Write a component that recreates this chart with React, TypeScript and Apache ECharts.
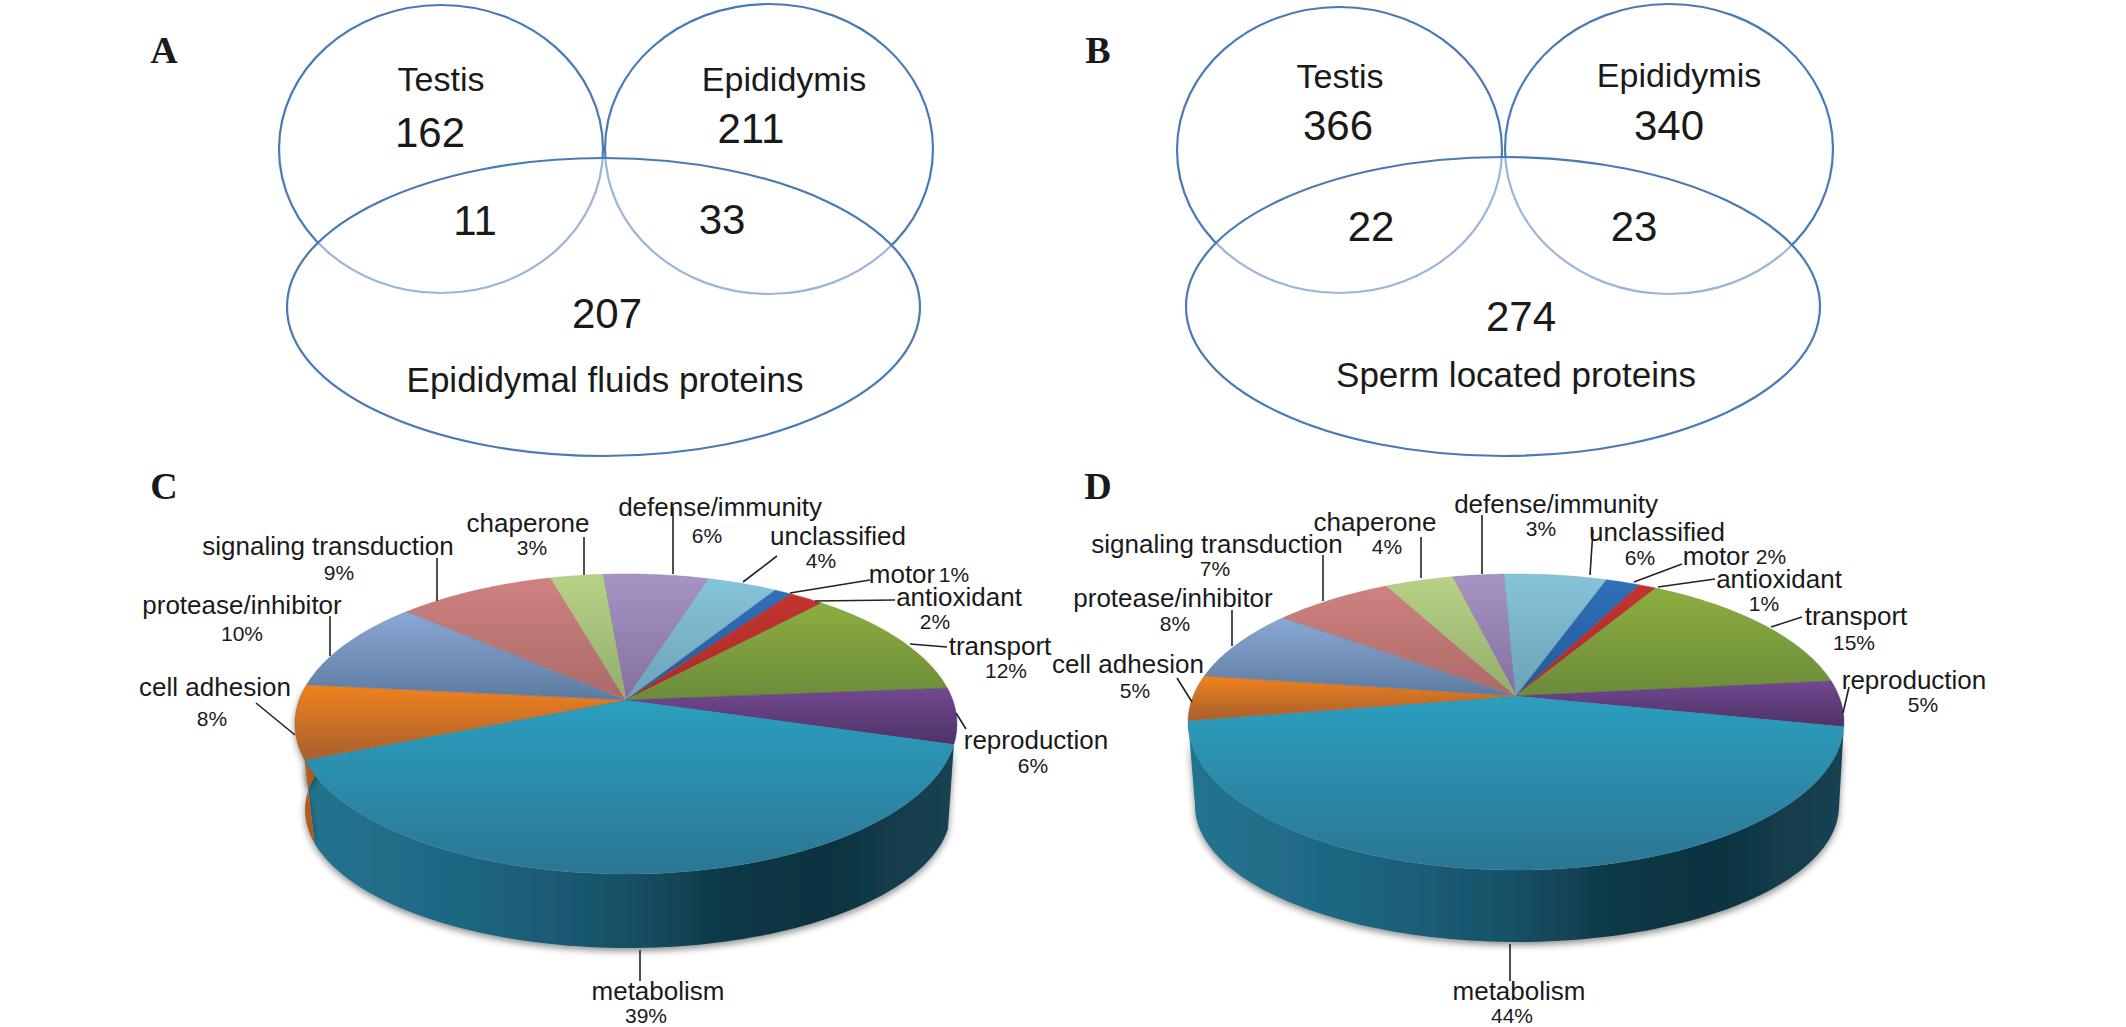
import React, { useEffect, useRef } from "react";
import * as echarts from "echarts";

// ---------- data ----------
const categories = [
  "defense/immunity", "unclassified", "motor", "antioxidant", "transport", "reproduction",
  "metabolism", "cell adhesion", "protease/inhibitor", "signaling transduction", "chaperone",
];
const valuesC = [6, 4, 1, 2, 12, 6, 39, 8, 10, 9, 3];
const valuesD = [3, 6, 2, 1, 15, 5, 44, 5, 8, 7, 4];
const vennA = ["Testis", "162", "Epididymis", "211", "11", "33", "207", "Epididymal fluids proteins"];
const vennB = ["Testis", "366", "Epididymis", "340", "22", "23", "274", "Sperm located proteins"];

// ---------- styles ----------
const topColors: [string, string][] = [
  ["#a793c4", "#8470a0"], ["#86c4da", "#6ba2b6"], ["#2f70ba", "#245896"], ["#c4332e", "#a62d2a"],
  ["#8cae3e", "#6c8b3c"], ["#734891", "#4c3366"], ["#2b9fbf", "#2b7693"], ["#f1821e", "#a65f2e"],
  ["#8aa8d6", "#5d7a9f"], ["#d08280", "#aa6a68"], ["#b8d287", "#92ad69"],
];
const wallStops: Record<number, [number, string][]> = {
  6: [[0, "#23748f"], [0.25, "#1e6682"], [0.5, "#175066"], [0.65, "#0f3846"], [0.8, "#0e323f"], [1, "#174352"]],
  7: [[0, "#c8671f"], [1, "#a8561c"]],
};
const SANS = "'Liberation Sans', Arial, sans-serif";
const SERIF = "'Liberation Serif', 'Times New Roman', serif";
const INK = "#1a1a1a";
const VENN_STROKE = "#4a7ab4";

// ---------- layout ----------
type Geo = { ex: number; ey: number; rx: number; ry: number; s: number; ex2: number; ey2: number; rx2: number; ry2: number; start: number; walls: number[] };
const geoC: Geo = { ex: 626, ey: 724, rx: 331, ry: 150, s: -0.16, ex2: 628, ey2: 810, rx2: 323, ry2: 138, start: -4.7, walls: [6, 7] };
const geoD: Geo = { ex: 1516, ey: 722, rx: 328, ry: 148, s: -0.176, ex2: 1517, ey2: 806, rx2: 322, ry2: 136, start: -13.3, walls: [6] };

const vennShapesA = [[441, 149, 162, 144], [769, 149, 164, 145], [603.5, 307, 316.5, 149]];
const vennShapesB = [[1339.5, 150, 162.5, 143], [1669, 149, 164, 145], [1503, 306.5, 317, 149.5]];
const vennPosA = [[441, 79, 34], [430, 132, 42], [784, 79, 34], [751, 128, 42], [475, 220, 42], [722, 219, 42], [607, 313, 42], [605, 379, 35]];
const vennPosB = [[1340, 76, 34], [1338, 125, 42], [1679, 75, 34], [1669, 125, 42], [1371, 226, 42], [1634, 226, 42], [1521, 316, 42], [1516, 374, 35]];
const panelLetters: [string, number, number][] = [["A", 164, 50], ["B", 1098, 50], ["C", 164, 486], ["D", 1098, 486]];

// per category: name x,y, percent x,y
const labelPosC = [
  [720, 507, 707, 535], [838, 536, 821, 560], [902, 574, 954, 574], [959, 597, 935, 621],
  [1000, 646, 1006, 670], [1036, 740, 1033, 765], [658, 991, 646, 1015], [215, 687, 212, 718],
  [242, 605, 242, 633], [328, 546, 339, 572], [528, 523, 532, 547],
];
const labelPosD = [
  [1556, 504, 1541, 528], [1657, 532, 1640, 557], [1716, 556, 1771, 556], [1779, 579, 1764, 603],
  [1856, 616, 1854, 642], [1914, 680, 1923, 704], [1519, 991, 1512, 1015], [1128, 664, 1135, 690],
  [1173, 598, 1175, 623], [1217, 544, 1215, 568], [1375, 522, 1387, 546],
];
const leadersC = [
  [673, 507, 673, 574], [777, 556, 743, 582], [870, 580, 790, 593], [895, 600, 815, 601],
  [947, 647, 910, 644], [966, 729, 956, 713], [640, 950, 640, 981], [256, 703, 295, 735],
  [330, 616, 330, 656], [437, 558, 437, 601], [584, 537, 584, 575],
];
const leadersD = [
  [1482, 515, 1482, 574], [1593, 530, 1590, 575], [1682, 564, 1634, 582], [1715, 579, 1658, 587],
  [1802, 617, 1771, 627], [1849, 687, 1843, 713], [1510, 944, 1510, 981], [1177, 678, 1192, 702],
  [1232, 610, 1232, 646], [1323, 555, 1323, 601], [1421, 537, 1421, 578],
];

// ---------- pie projection: a circle seen in perspective ----------
function project(deg: number, ex: number, ey: number, rx: number, ry: number, s: number): number[] {
  const a = (deg * Math.PI) / 180;
  const c = Math.sin(a);
  const t = -Math.cos(a);
  const d = 1 + s * t;
  return [ex + (rx * c * Math.sqrt(1 - s * s)) / d, ey + (ry * (t + s)) / d];
}

function sliceAngles(values: number[], start: number, i: number): [number, number] {
  const total = values.reduce((p, v) => p + v, 0);
  const before = values.slice(0, i).reduce((p, v) => p + v, 0);
  return [start + (before / total) * 360, start + ((before + values[i]) / total) * 360];
}

function arcPoints(a: number, b: number, g: (deg: number) => number[]): number[][] {
  const n = Math.max(2, Math.ceil((b - a) / 1.5));
  const pts: number[][] = [];
  for (let k = 0; k <= n; k++) pts.push(g(a + ((b - a) * k) / n));
  return pts;
}

function wallSeries(values: number[], geo: Geo) {
  return {
    type: "custom",
    coordinateSystem: "none",
    silent: true,
    data: values.map((v, i) => ({ name: categories[i], value: v })),
    renderItem: (params: any) => {
      const i = params.dataIndex;
      if (!geo.walls.includes(i)) return null;
      const [a, b] = sliceAngles(values, geo.start, i);
      const top = arcPoints(a, b, (d) => project(d, geo.ex, geo.ey, geo.rx, geo.ry, geo.s));
      const bot = arcPoints(a, b, (d) => project(d, geo.ex2, geo.ey2, geo.rx2, geo.ry2, geo.s)).reverse();
      return {
        type: "polygon",
        shape: { points: top.concat(bot) },
        style: {
          fill: new echarts.graphic.LinearGradient(0, 0, 1, 0, wallStops[i].map(([offset, color]) => ({ offset, color }))),
          shadowBlur: 7,
          shadowColor: "rgba(0,0,0,0.45)",
          shadowOffsetY: 3,
        },
      };
    },
  };
}

function topSeries(values: number[], geo: Geo) {
  return {
    type: "custom",
    coordinateSystem: "none",
    silent: true,
    data: values.map((v, i) => ({ name: categories[i], value: v })),
    renderItem: (params: any) => {
      const i = params.dataIndex;
      const [a, b] = sliceAngles(values, geo.start, i);
      const centre = [geo.ex, geo.ey + geo.ry * geo.s];
      const rim = arcPoints(a, b, (d) => project(d, geo.ex, geo.ey, geo.rx, geo.ry, geo.s));
      return {
        type: "polygon",
        shape: { points: [centre, ...rim] },
        style: {
          fill: new echarts.graphic.LinearGradient(0, 0, 0, 1, [
            { offset: 0, color: topColors[i][0] },
            { offset: 1, color: topColors[i][1] },
          ]),
          stroke: topColors[i][1],
          lineWidth: 0.4,
        },
      };
    },
  };
}

function text(str: string, x: number, y: number, size: number, family = SANS, weight = "normal") {
  return {
    type: "text",
    x,
    y,
    z: 20,
    silent: true,
    style: { text: str, fontSize: size, fontFamily: family, fontWeight: weight, fill: INK, align: "center", verticalAlign: "middle" },
  };
}

function vennElements(shapes: number[][], labels: string[], pos: number[][]) {
  const ellipses = shapes.map((s, i) => ({
    type: "ellipse",
    z: 5 + i,
    silent: true,
    shape: { cx: s[0], cy: s[1], rx: s[2], ry: s[3] },
    style: { fill: i === 2 ? "rgba(255,255,255,0.45)" : "none", stroke: VENN_STROKE, lineWidth: 2.2 },
  }));
  return [...ellipses, ...labels.map((l, i) => text(l, pos[i][0], pos[i][1], pos[i][2]))];
}

function pieLabels(values: number[], pos: number[][], leaders: number[][]) {
  const out: any[] = [];
  categories.forEach((c, i) => {
    const p = pos[i];
    out.push(text(c, p[0], p[1], 26));
    out.push(text(`${values[i]}%`, p[2], p[3], 21));
    const l = leaders[i];
    out.push({
      type: "line",
      z: 15,
      silent: true,
      shape: { x1: l[0], y1: l[1], x2: l[2], y2: l[3] },
      style: { stroke: "#222", lineWidth: 1.6 },
    });
  });
  return out;
}

export default function App() {
  const ref = useRef<HTMLDivElement>(null);
  useEffect(() => {
    document.body.style.margin = "0";
    const chart = echarts.init(ref.current!, undefined, { renderer: "svg" });
    chart.setOption({
      animation: false,
      backgroundColor: "#ffffff",
      series: [wallSeries(valuesC, geoC), topSeries(valuesC, geoC), wallSeries(valuesD, geoD), topSeries(valuesD, geoD)],
      graphic: {
        elements: [
          ...vennElements(vennShapesA, vennA, vennPosA),
          ...vennElements(vennShapesB, vennB, vennPosB),
          ...pieLabels(valuesC, labelPosC, leadersC),
          ...pieLabels(valuesD, labelPosD, leadersD),
          ...panelLetters.map(([t, x, y]) => text(t, x, y, 38, SERIF, "bold")),
        ],
      },
    });
    return () => chart.dispose();
  }, []);
  return <div ref={ref} style={{ width: 2126, height: 1027 }} />;
}
